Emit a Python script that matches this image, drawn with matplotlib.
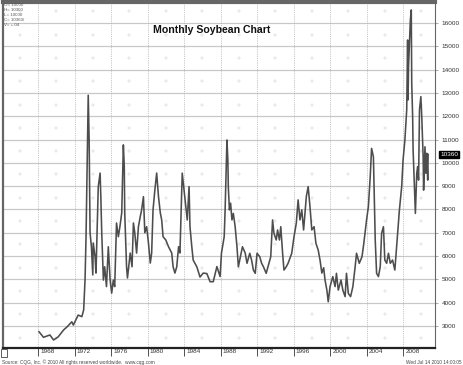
import numpy as np
import matplotlib
matplotlib.use("Agg")
import matplotlib.pyplot as plt

plt.rcParams['font.family'] = ['Liberation Sans', 'DejaVu Sans']

# monthly soybean prices (cents x 10)
dates = [1968.1, 1968.6, 1969.3, 1969.7, 1970.2, 1970.8, 1971.2, 1971.7, 1971.87, 1972.4,
         1972.8, 1973.0, 1973.15, 1973.26, 1973.5, 1973.6, 1973.7, 1973.85, 1974.0, 1974.05,
         1974.25, 1974.35, 1974.6, 1974.8, 1974.88, 1974.98, 1975.16, 1975.3, 1975.5, 1975.7,
         1975.9, 1976.07, 1976.25, 1976.4, 1976.6, 1976.8, 1976.97, 1977.17, 1977.35, 1977.45,
         1977.5, 1977.7, 1977.8, 1978.1, 1978.3, 1978.45, 1978.6, 1978.8, 1979.0, 1979.2,
         1979.35, 1979.55, 1979.7, 1979.9, 1980.1, 1980.3, 1980.45, 1980.6, 1980.8, 1981.0,
         1981.2, 1981.4, 1981.55, 1981.7, 1982.0, 1982.3, 1982.65, 1982.8, 1983.0, 1983.2,
         1983.4, 1983.55, 1983.8, 1984.0, 1984.2, 1984.35, 1984.55, 1984.65, 1984.85, 1985.0,
         1985.4, 1985.75, 1986.1, 1986.5, 1986.85, 1987.2, 1987.6, 1987.95, 1988.1, 1988.4,
         1988.5, 1988.7, 1988.8, 1988.85, 1988.97, 1989.1, 1989.25, 1989.4, 1989.6, 1989.8,
         1989.95, 1990.1, 1990.4, 1990.7, 1990.9, 1991.2, 1991.4, 1991.6, 1991.8, 1992.0,
         1992.3, 1992.5, 1992.7, 1993.0, 1993.2, 1993.5, 1993.7, 1993.85, 1994.1, 1994.25,
         1994.45, 1994.6, 1994.8, 1994.95, 1995.2, 1995.4, 1995.8, 1996.05, 1996.3, 1996.5,
         1996.7, 1996.9, 1997.1, 1997.4, 1997.6, 1997.8, 1998.0, 1998.25, 1998.45, 1998.7,
         1998.9, 1999.1, 1999.3, 1999.45, 1999.65, 1999.8, 2000.0, 2000.3, 2000.55, 2000.7,
         2000.9, 2001.2, 2001.4, 2001.65, 2001.8, 2002.0, 2002.25, 2002.5, 2002.75, 2002.9,
         2003.2, 2003.5, 2003.7, 2004.0, 2004.2, 2004.4, 2004.55, 2004.75, 2004.85, 2004.95,
         2005.1, 2005.3, 2005.5, 2005.65, 2005.85, 2006.0, 2006.2, 2006.4, 2006.6, 2006.85,
         2007.1, 2007.4, 2007.6, 2007.85, 2008.0, 2008.2, 2008.4, 2008.5, 2008.55, 2008.6,
         2008.8, 2008.9, 2008.95, 2009.05, 2009.1, 2009.25, 2009.35, 2009.5, 2009.6, 2009.7,
         2009.8, 2009.95, 2010.05, 2010.2, 2010.25, 2010.4, 2010.5, 2010.6, 2010.7, 2010.75]
prices = [2755, 2515, 2615, 2400, 2530, 2830, 2970, 3180, 3040, 3470,
          3400, 3690, 4975, 6830, 12900, 10980, 7000, 6400, 5190, 6560,
          5970, 5270, 8980, 9560, 8550, 7000, 4970, 5540, 4690, 6400,
          4970, 4410, 4970, 4690, 7420, 6830, 7260, 7850, 10770, 9830,
          7850, 5540, 5060, 6130, 5540, 7420, 7000, 6130, 7260, 7690,
          7980, 8550, 7000, 7260, 6560, 5700, 6130, 7980, 8830, 9560,
          8550, 7850, 7550, 6830, 6690, 6400, 6130, 5540, 5270, 5540,
          6400, 6130, 9560, 8830, 8120, 7550, 8980, 7260, 6400, 5830,
          5540, 5100, 5270, 5250, 4900, 4900, 5550, 5120, 6130, 6830,
          7980, 10980, 10120, 8980, 7980, 8270, 7550, 7830, 7260, 6400,
          5540, 5830, 6400, 6130, 5690, 6120, 5830, 5400, 5260, 6120,
          5970, 5690, 5540, 5260, 5540, 5970, 7550, 6980, 6690, 7120,
          6690, 7260, 6120, 5400, 5540, 5690, 6120, 6830, 7410, 8410,
          7550, 7980, 7120, 8550, 8980, 8120, 7120, 7260, 6550, 6260,
          5830, 5270, 5500, 4970, 4540, 4040, 4690, 5120, 4690, 5260,
          4540, 4970, 4540, 4260, 5260, 4400, 4260, 4690, 5540, 6120,
          5690, 5970, 6550, 7550, 8120, 9400, 10620, 10260, 8410, 6690,
          5260, 5120, 5540, 6980, 7260, 5830, 5690, 6120, 5690, 5830,
          5400, 6980, 7980, 8980, 10120, 10980, 12270, 15270, 12700, 14130,
          16130, 16560, 13410, 11980, 10550, 8980, 7830, 9550, 9840, 9260,
          12270, 12840, 11980, 10260, 8830, 10690, 9550, 10410, 9260, 10360]

year_ticks = [1968, 1972, 1976, 1980, 1984, 1988, 1992, 1996, 2000, 2004, 2008]
price_ticks = list(range(3000, 17000, 1000))
last_price = 10360

legend_lines = ["O= 10000", "H= 10300", "L= 10000", "C= 10360/", "V= +.04"]

fig = plt.figure(figsize=(4.63, 3.65), dpi=100)
W, H = 463, 365
ax = fig.add_axes([3 / W, 17 / H, 432 / W, 346 / H])
ax.set_xlim(1964.16, 2011.5)
ax.set_ylim(2056, 16900)

# grid
for p in price_ticks:
    ax.axhline(p, color='#c8c8c8', lw=0.9, zorder=1)
for yr in year_ticks:
    ax.axvline(yr, color='#b4b4b4', lw=0.6, ls=(0, (1, 1.2)), zorder=1)
gx, gy = np.meshgrid(np.arange(1966, 2012, 4), np.arange(2500, 17000, 1000))
ax.scatter(gx.ravel(), gy.ravel(), marker='+', s=5, lw=0.35, color='#d4d4d4', zorder=1)

ax.plot(dates, prices, color='#4d4d4d', lw=1.15, zorder=3)

# axes frame
for s in ['top', 'bottom', 'left', 'right']:
    ax.spines[s].set_color('#666666')
ax.spines['top'].set_linewidth(3)
ax.spines['bottom'].set_linewidth(1.6)
ax.spines['bottom'].set_color('#222222')
ax.spines['left'].set_linewidth(1.6)
ax.spines['right'].set_linewidth(0.8)

ax.yaxis.tick_right()
ax.set_yticks(price_ticks)
ax.set_yticklabels([str(p) for p in price_ticks], fontsize=4.6, color='#333333')
ax.tick_params(axis='y', length=2, width=0.5, pad=3, color='#888888')

ax.set_xticks(year_ticks)
ax.set_xticklabels([])
ax.tick_params(axis='x', length=6, width=0.6, color='#333333', direction='out')
for yr in year_ticks:
    ax.text(yr + 0.25, -0.004, str(yr), transform=ax.get_xaxis_transform(),
            ha='left', va='top', fontsize=4.6, color='#333333')

# last price box
ax.text(1.012, last_price, str(last_price), transform=ax.get_yaxis_transform(),
        ha='left', va='center', fontsize=4.6, color='white',
        bbox=dict(boxstyle='square,pad=0.15', fc='black', ec='black'))

# title
fig.text(153 / W, 1 - 30 / H, "Monthly Soybean Chart", fontsize=7.6,
         fontweight='bold', ha='left', va='center', color='#111111')

# tiny OHLC legend
for i, t in enumerate(legend_lines):
    fig.text(4 / W, 1 - (5 + i * 5) / H, t, fontsize=3.2, color='#555555',
             ha='left', va='center')

# footer
fig.text(2 / W, 3 / H, "Source: CQG, Inc. \u00a9 2010 All rights reserved worldwide.  www.cqg.com",
         fontsize=3.4, color='#444444', ha='left', va='center')
fig.text(462 / W, 3 / H, "Wed Jul 14 2010 14:00:05", fontsize=3.4, color='#444444',
         ha='right', va='center')
fig.patches.append(plt.Rectangle((1 / W, 8 / H), 6 / W, 8 / H, fill=False,
                                 ec='#444444', lw=0.6, transform=fig.transFigure))

fig.savefig("out.png", dpi=100)
